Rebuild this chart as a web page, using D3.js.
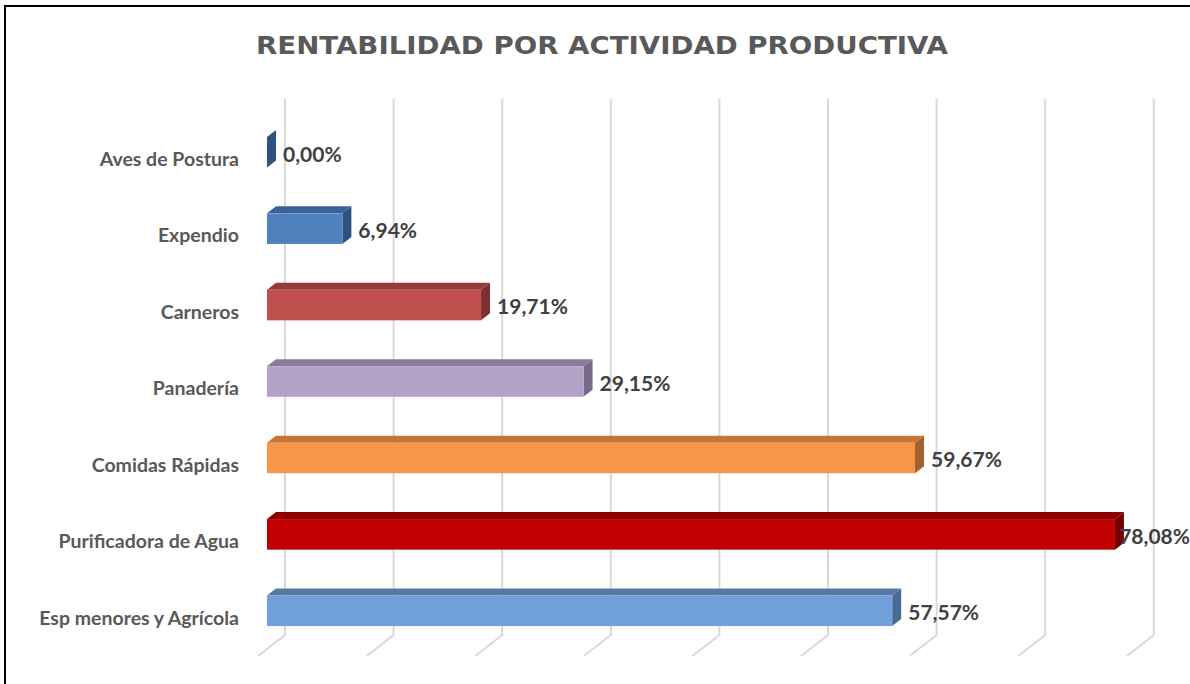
<!DOCTYPE html>
<html>
<head>
<meta charset="utf-8">
<script src="https://cdn.jsdelivr.net/npm/d3@7"></script>
<style>
  body { margin: 0; background: #fff; }
  svg { display: block; }
</style>
</head>
<body>
<div id="chart"><svg></svg></div>
<script>
// datos del grafico
const categories = ["Aves de Postura", "Expendio", "Carneros", "Panadería",
    "Comidas Rápidas", "Purificadora de Agua", "Esp menores y Agrícola"];
const values = [0.00, 6.94, 19.71, 29.15, 59.67, 78.08, 57.57];
const valueTicks = [0, 10, 20, 30, 40, 50, 60, 70, 80];

// front, top, side of every bar
const frontColors = ["#3D6499", "#4F81BD", "#C0504D", "#B3A2C7", "#F79646", "#C00000", "#71A0DC"];
const topColors   = ["#2F5282", "#3B6296", "#943C3A", "#8A7B9A", "#C57535", "#8E0000", "#5679A6"];
const sideColors  = ["#2F5282", "#2F5180", "#7E302E", "#766A88", "#A6622C", "#740000", "#4A6994"];

const width = 1190, height = 684;
const depthX = 27, depthY = -21;   // floor depth, oblique

const svg = d3.select("#chart svg")
    .attr("width", width)
    .attr("height", height);

const x = d3.scaleLinear()
    .domain([0, 80])
    .range([258, 258 + 868.8]);

const y = d3.scaleBand()
    .domain(categories)
    .range([121, 656]);

// point in 3d -> screen, d = 0 front, 1 back
const px = (v, d) => x(v) + d * depthX;
const py = (yy, d) => yy + d * depthY;

// frame
svg.append("path")
    .attr("d", `M5,${height} V6 H${width}`)
    .attr("fill", "none")
    .attr("stroke", "#000")
    .attr("stroke-width", 2);

// title, stretched a bit to get the wide verdana look
svg.append("text")
    .attr("x", 256)
    .attr("y", 53.5)
    .attr("font-family", "DejaVu Sans, Verdana, sans-serif")
    .attr("font-weight", "bold")
    .attr("font-size", 25)
    .attr("textLength", 692)
    .attr("lengthAdjust", "spacingAndGlyphs")
    .attr("fill", "#595959")
    .text("RENTABILIDAD POR ACTIVIDAD PRODUCTIVA");

// gridlines on back wall and floor
svg.append("g")
    .attr("fill", "none")
    .attr("stroke", "#D9D9D9")
    .attr("stroke-width", 2)
    .selectAll("path")
    .data(valueTicks)
    .enter().append("path")
    .attr("d", v => `M${px(v, 1)},${py(120, 1)}` +
        ` L${px(v, 1)},${py(656, 1)} L${px(v, 0)},${py(656, 0)}`);

// bars
const bh = y.bandwidth() * 0.4;
const bars = svg.append("g")
    .selectAll("g")
    .data(categories.map((c, i) => ({ c, v: values[i], i })))
    .enter().append("g");

const d0 = 1 / 3, d1 = 2 / 3;
const yTop = d => y(d.c) + y.bandwidth() / 2 - bh / 2;
const yBot = d => y(d.c) + y.bandwidth() / 2 + bh / 2;

bars.append("path")   // top
    .attr("fill", d => topColors[d.i])
    .attr("d", d => `M${px(0, d0)},${py(yTop(d), d0)} L${px(0, d1)},${py(yTop(d), d1)}` +
        ` L${px(d.v, d1)},${py(yTop(d), d1)} L${px(d.v, d0)},${py(yTop(d), d0)}Z`);

bars.append("path")   // side
    .attr("fill", d => sideColors[d.i])
    .attr("d", d => `M${px(d.v, d0)},${py(yTop(d), d0)} L${px(d.v, d1)},${py(yTop(d), d1)}` +
        ` L${px(d.v, d1)},${py(yBot(d), d1)} L${px(d.v, d0)},${py(yBot(d), d0)}Z`);

bars.append("rect")   // front
    .attr("x", px(0, d0))
    .attr("y", d => py(yTop(d), d0))
    .attr("width", d => px(d.v, d0) - px(0, d0))
    .attr("height", bh)
    .attr("fill", d => frontColors[d.i]);

// category labels
svg.append("g")
    .attr("font-family", "Lato, sans-serif")
    .attr("font-weight", "bold")
    .attr("font-size", 19.5)
    .attr("fill", "#595959")
    .attr("text-anchor", "end")
    .selectAll("text")
    .data(categories)
    .enter().append("text")
    .attr("x", 239)
    .attr("y", c => y(c) + y.bandwidth() / 2)
    .attr("dy", "0.35em")
    .text(c => c);

// data labels
const fmt = v => d3.format(".2f")(v).replace(".", ",") + "%";
const labels = svg.append("g")
    .attr("font-family", "Lato, sans-serif")
    .attr("font-weight", "bold")
    .attr("font-size", 21)
    .attr("fill", "#404040")
    .selectAll("text")
    .data(categories.map((c, i) => ({ c, v: values[i] })))
    .enter().append("text")
    .attr("x", d => px(d.v, d1) + 7)
    .attr("y", d => y(d.c) + y.bandwidth() / 2 - 5)
    .attr("dy", "0.35em")
    .text(d => fmt(d.v));

// keep labels inside the picture
labels.each(function () {
    const w = this.getComputedTextLength();
    const lx = +this.getAttribute("x");
    if (lx + w > width) this.setAttribute("x", width - w);
});
</script>
</body>
</html>
